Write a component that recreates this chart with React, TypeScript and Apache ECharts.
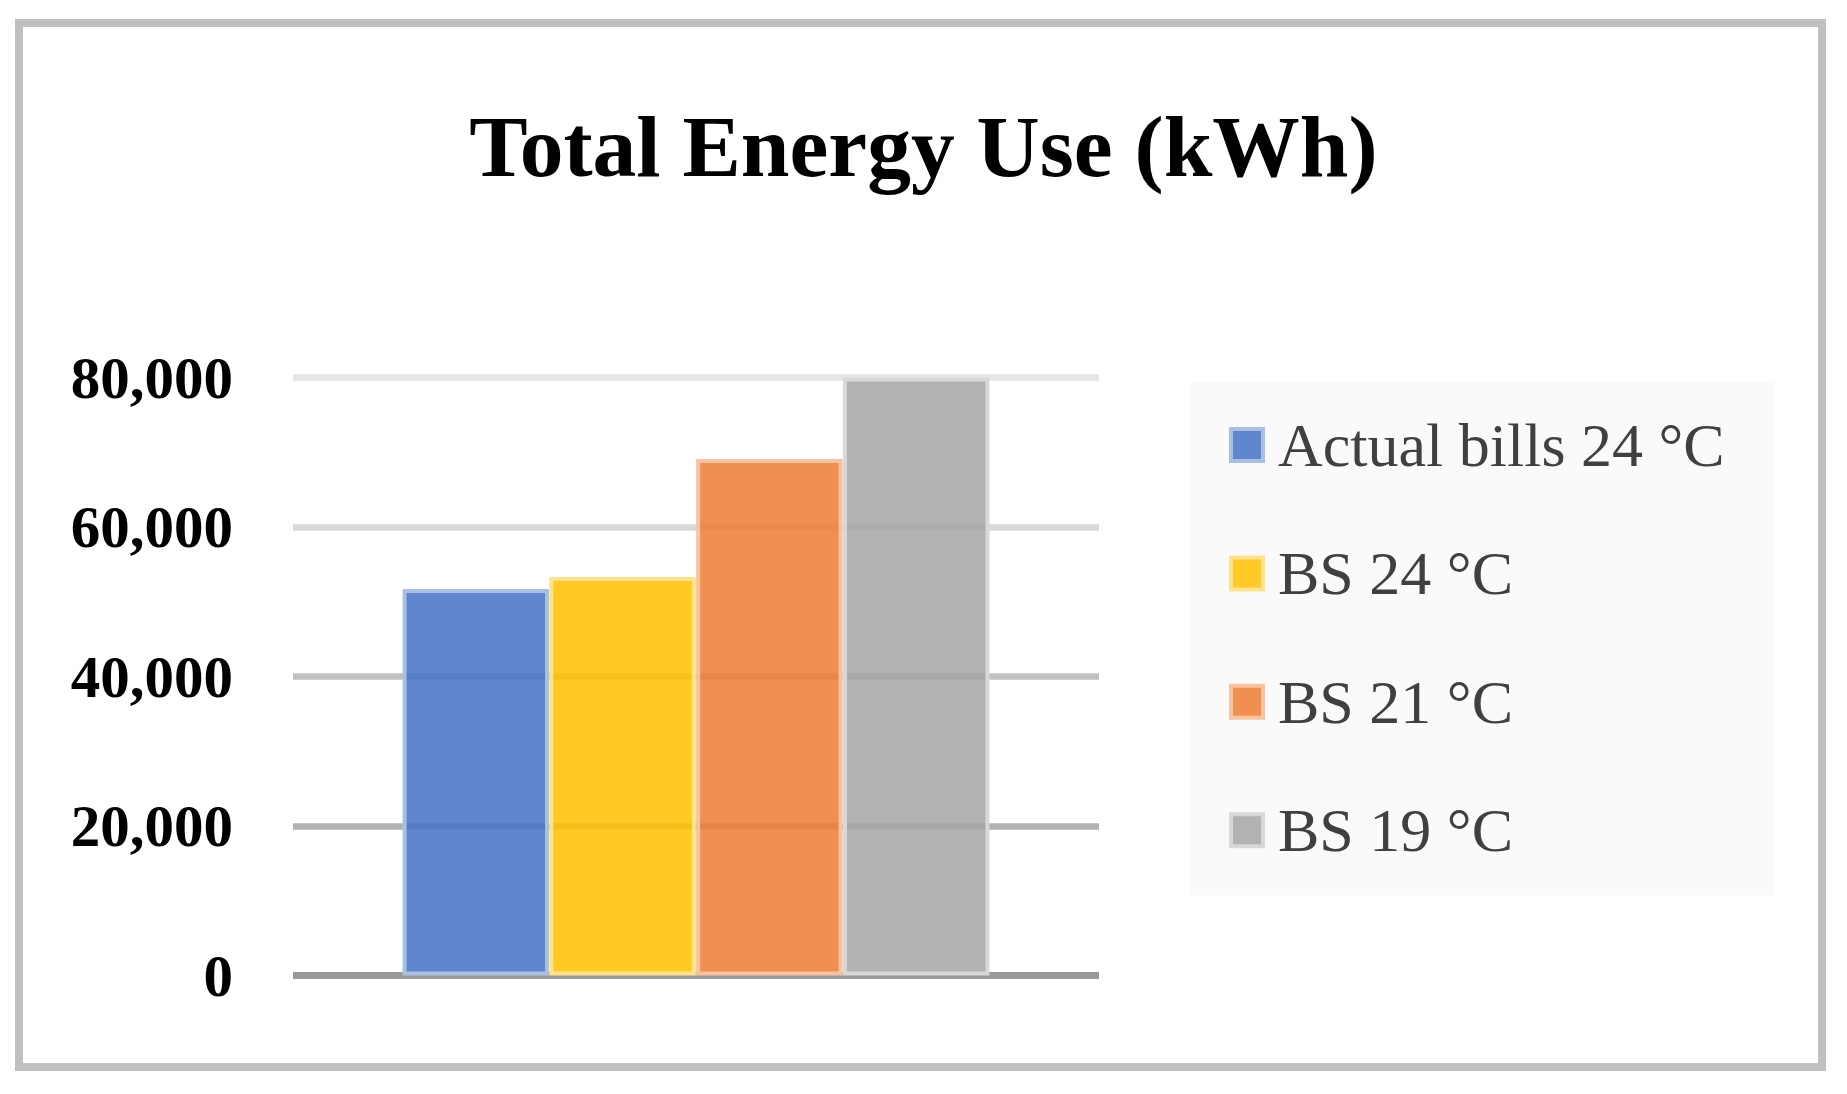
import React, { useEffect, useRef } from "react";
import * as echarts from "echarts";

const titleText = "Total Energy Use (kWh)";
const category = ["Total"];
const seriesNames = ["Actual bills 24 °C", "BS 24 °C", "BS 21 °C", "BS 19 °C"];
const seriesValues = [51700, 53300, 69100, 80000];
const fillColors = [
  "rgba(68,114,196,0.85)",
  "rgba(255,192,0,0.85)",
  "rgba(237,125,49,0.85)",
  "rgba(165,165,165,0.85)",
];
const borderColors = ["#AABFE4", "#FFE28C", "#F7C3A1", "#D8D8D8"];
const yTicks = [0, 20000, 40000, 60000, 80000];
const yTickLabels = ["0", "20,000", "40,000", "60,000", "80,000"];
const gridColors = ["#999999", "#b2b2b2", "#c0c0c0", "#d9d9d9", "#e6e6e6"];

const SERIF = "'Liberation Serif', 'DejaVu Serif', serif";

export default function App() {
  const ref = useRef<HTMLDivElement>(null);
  useEffect(() => {
    document.body.style.margin = "0";
    const chart = echarts.init(ref.current!, null, { renderer: "svg" });
    const option: any = {
      animation: false,
      backgroundColor: "#ffffff",
      title: {
        text: titleText,
        left: "center",
        top: 97,
        textStyle: {
          fontFamily: SERIF,
          fontWeight: "bold",
          fontSize: 87.5,
          color: "#000000",
        },
      },
      graphic: [
        {
          type: "rect",
          z: -10,
          shape: { x: 19, y: 23, width: 1803, height: 1044 },
          style: { fill: "#ffffff", stroke: "#c0c0c0", lineWidth: 8 },
        },
        {
          type: "rect",
          z: -9,
          shape: { x: 1191, y: 382, width: 582, height: 513 },
          style: { fill: "#fafafa" },
        },
      ],
      legend: {
        orient: "vertical",
        left: 1229,
        top: 414,
        padding: 0,
        itemWidth: 32,
        itemHeight: 32,
        itemGap: 66.4,
        selectedMode: false,
        textStyle: {
          fontFamily: SERIF,
          fontSize: 62,
          lineHeight: 62,
          color: "#404040",
          padding: [0, 0, 0, 10],
        },
        data: seriesNames.map((n, i) => ({
          name: n,
          icon: "rect",
          itemStyle: {
            color: fillColors[i],
            borderColor: borderColors[i],
            borderWidth: 4,
          },
        })),
      },
      grid: { left: 293, right: 748, top: 377.5, bottom: 118.5 },
      xAxis: {
        type: "category",
        data: category,
        axisLine: {
          show: true,
          lineStyle: { color: "#999999", width: 7, cap: "butt" },
        },
        axisTick: { show: false },
        axisLabel: { show: false },
        splitLine: { show: false },
      },
      yAxis: {
        type: "value",
        min: 0,
        max: 80000,
        interval: 20000,
        axisLine: { show: false },
        axisTick: { show: false },
        axisLabel: {
          margin: 60,
          fontFamily: SERIF,
          fontWeight: "bold",
          fontSize: 59,
          color: "#000000",
          formatter: (v: number) => yTickLabels[yTicks.indexOf(v)] ?? String(v),
        },
        splitLine: {
          show: true,
          lineStyle: { color: gridColors, width: 6.5, cap: "butt" },
        },
      },
      series: seriesNames.map((n, i) => ({
        name: n,
        type: "bar",
        data: [seriesValues[i]],
        barWidth: 146.5,
        barGap: "0.2%",
        itemStyle: {
          color: fillColors[i],
          borderColor: borderColors[i],
          borderWidth: 4,
        },
      })),
    };
    chart.setOption(option);
    return () => chart.dispose();
  }, []);
  return <div ref={ref} style={{ width: 1847, height: 1094 }} />;
}
